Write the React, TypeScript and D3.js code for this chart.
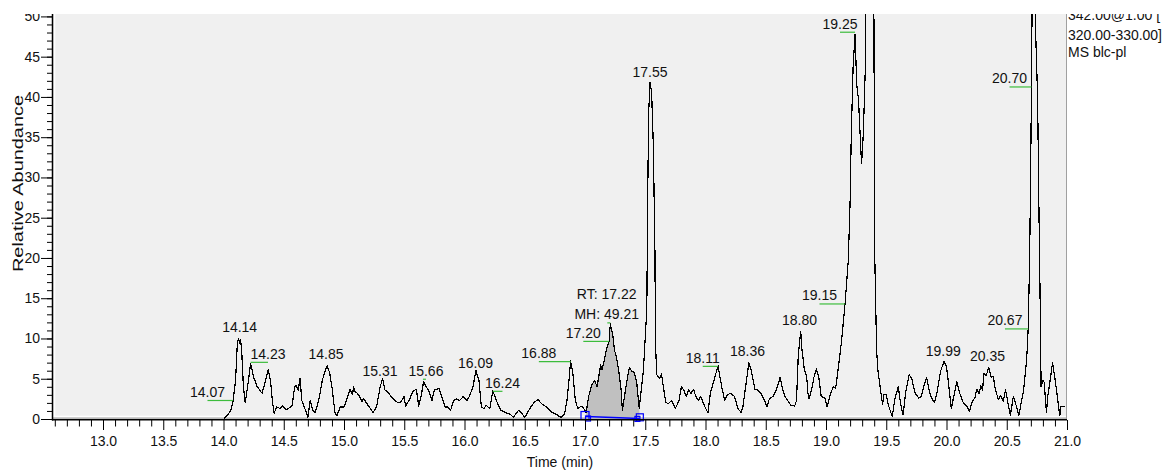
import React, { useEffect, useRef } from 'react'
import * as d3 from 'd3'

// chromatogram trace: [retention time (min), relative abundance (%)]
const trace: [number, number][] = [
  [14.005, 0.1], [14.04, 0.6], [14.06, 1.1], [14.08, 2.3], [14.1, 4.8], [14.115, 9.4], [14.125, 10.0], [14.135, 9.4],
  [14.14, 9.9], [14.15, 8.8], [14.165, 4.0], [14.18, 2.0], [14.2, 4.0], [14.225, 6.9], [14.25, 5.2], [14.28, 4.0],
  [14.32, 3.2], [14.35, 4.8], [14.37, 6.1], [14.39, 4.8], [14.405, 2.3], [14.42, 0.7], [14.44, 1.5], [14.47, 1.3],
  [14.49, 1.6], [14.52, 1.2], [14.54, 1.3], [14.57, 1.7], [14.59, 4.0], [14.6, 4.2], [14.62, 3.6], [14.635, 5.0],
  [14.65, 2.3], [14.68, 1.1], [14.7, 0.2], [14.72, 2.3], [14.74, 1.1], [14.76, 0.8], [14.79, 2.3], [14.82, 4.8],
  [14.84, 5.8], [14.86, 6.6], [14.88, 5.8], [14.9, 4.0], [14.925, 0.8], [14.94, 0.4], [14.97, 1.5], [15.0, 1.5],
  [15.02, 2.3], [15.05, 3.7], [15.07, 3.0], [15.08, 4.0], [15.09, 3.4], [15.11, 3.2], [15.13, 2.8], [15.15, 2.1],
  [15.16, 2.6], [15.19, 1.9], [15.21, 1.5], [15.24, 0.8], [15.27, 1.5], [15.3, 4.0], [15.32, 5.0], [15.34, 3.6],
  [15.36, 3.4], [15.39, 2.8], [15.42, 2.3], [15.45, 2.0], [15.47, 2.1], [15.5, 2.8], [15.51, 1.6], [15.54, 2.3],
  [15.57, 3.4], [15.6, 3.7], [15.62, 1.6], [15.64, 2.8], [15.66, 4.6], [15.69, 3.8], [15.7, 3.6], [15.73, 2.3],
  [15.75, 3.6], [15.79, 3.8], [15.81, 2.8], [15.84, 1.5], [15.86, 1.5], [15.885, 1.1], [15.91, 2.3], [15.93, 2.5],
  [15.96, 2.3], [15.99, 2.8], [16.02, 2.3], [16.04, 2.8], [16.07, 4.0], [16.095, 6.0], [16.12, 4.8], [16.14, 1.5],
  [16.16, 1.3], [16.18, 1.7], [16.21, 1.3], [16.235, 3.5], [16.27, 2.1], [16.3, 1.1], [16.34, 0.8], [16.38, 0.6],
  [16.405, 0.2], [16.45, 1.1], [16.48, 0.6], [16.5, 0.2], [16.55, 1.5], [16.58, 2.1], [16.61, 2.4], [16.64, 1.9],
  [16.68, 1.5], [16.72, 0.9], [16.76, 0.6], [16.8, 0.2], [16.83, 0.6], [16.85, 2.3], [16.87, 5.2], [16.88, 7.2],
  [16.9, 5.6], [16.92, 2.3], [16.94, 1.3], [16.97, 1.6], [16.99, 1.3], [17.01, 0.8], [17.03, 2.8], [17.055, 4.2],
  [17.08, 4.8], [17.1, 4.0], [17.11, 4.9], [17.13, 6.7], [17.14, 6.1], [17.16, 7.3], [17.18, 8.8], [17.2, 9.7],
  [17.21, 11.8], [17.23, 10.5], [17.245, 8.5], [17.26, 7.8], [17.28, 6.0], [17.3, 3.6], [17.31, 1.1], [17.34, 4.0],
  [17.36, 5.8], [17.37, 6.4], [17.39, 5.9], [17.41, 5.8], [17.43, 4.4], [17.45, 1.3], [17.485, 6.1], [17.513, 13.7],
  [17.52, 27], [17.528, 38], [17.54, 41.8], [17.553, 40.5], [17.567, 34], [17.58, 21.3], [17.585, 9.4], [17.595, 5.5],
  [17.62, 5.0], [17.635, 5.6], [17.65, 4.0], [17.67, 2.1], [17.69, 1.9], [17.72, 2.3], [17.75, 1.3], [17.78, 2.3],
  [17.8, 4.0], [17.82, 3.6], [17.84, 2.8], [17.86, 3.6], [17.88, 3.2], [17.9, 3.7], [17.92, 2.8], [17.94, 2.3],
  [17.96, 2.8], [17.995, 1.5], [18.02, 0.8], [18.04, 3.2], [18.07, 4.8], [18.104, 6.6], [18.12, 5.2], [18.14, 3.6],
  [18.16, 2.3], [18.18, 3.0], [18.21, 3.2], [18.24, 2.8], [18.27, 1.3], [18.295, 0.8], [18.31, 1.5], [18.34, 4.8],
  [18.36, 7.0], [18.38, 6.0], [18.41, 3.7], [18.43, 3.6], [18.46, 3.2], [18.49, 2.3], [18.51, 1.5], [18.53, 2.5],
  [18.56, 2.8], [18.59, 3.7], [18.62, 5.2], [18.64, 3.7], [18.66, 2.8], [18.69, 2.1], [18.71, 1.7], [18.74, 1.6],
  [18.755, 2.3], [18.77, 7.9], [18.79, 10.9], [18.8, 8.7], [18.82, 6.2], [18.84, 5.2], [18.85, 3.2], [18.86, 2.5],
  [18.88, 3.6], [18.9, 5.2], [18.92, 6.2], [18.94, 5.2], [18.96, 2.8], [18.99, 2.6], [19.01, 1.5], [19.03, 2.8],
  [19.06, 4.0], [19.08, 3.8], [19.1, 6.1], [19.13, 9.8], [19.158, 14.3], [19.185, 19.7], [19.2, 27], [19.21, 35.5],
  [19.225, 43.7], [19.241, 47.8], [19.255, 41.6], [19.27, 39.6], [19.28, 36.3], [19.295, 31.7], [19.31, 35.5], [19.325, 43],
  [19.345, 70], [19.37, 80], [19.395, 60], [19.405, 20], [19.42, 8.6], [19.43, 6.1], [19.46, 2.8], [19.47, 1.8],
  [19.48, 3.0], [19.5, 3.0], [19.52, 1.6], [19.55, 0.3], [19.57, 2.4], [19.6, 4.0], [19.62, 1.8], [19.64, 0.5],
  [19.66, 3.2], [19.69, 5.5], [19.71, 5.1], [19.74, 3.2], [19.77, 2.6], [19.79, 2.8], [19.81, 4.0], [19.835, 5.2],
  [19.85, 4.0], [19.87, 2.8], [19.9, 2.0], [19.92, 3.2], [19.95, 5.9], [19.98, 7.2], [20.0, 6.5], [20.02, 4.0],
  [20.04, 1.3], [20.06, 2.8], [20.085, 4.6], [20.11, 3.2], [20.14, 2.0], [20.17, 1.6], [20.19, 0.9], [20.21, 2.0],
  [20.24, 2.8], [20.25, 3.7], [20.27, 3.2], [20.285, 4.1], [20.3, 3.6], [20.31, 5.7], [20.33, 5.4], [20.35, 6.4],
  [20.37, 5.2], [20.39, 5.3], [20.4, 4.0], [20.43, 2.4], [20.45, 2.9], [20.47, 2.2], [20.49, 3.6], [20.51, 2.0],
  [20.53, 0.5], [20.555, 2.8], [20.58, 1.6], [20.6, 0.4], [20.62, 2.0], [20.64, 3.6], [20.665, 7.3], [20.678, 11.2],
  [20.69, 20], [20.698, 30], [20.705, 41.2], [20.72, 70], [20.735, 60], [20.742, 47], [20.756, 40], [20.768, 25],
  [20.776, 16], [20.785, 4.0], [20.8, 4.8], [20.81, 4.6], [20.83, 0.8], [20.84, 2.8], [20.86, 4.8], [20.88, 7.0],
  [20.9, 5.0], [20.92, 2.8], [20.94, 0.4], [20.95, 1.6], [20.98, 1.5]
]

// peak labels: text, where the label is centred, its anchor height, and the peak its leader points to
const peakLabels = ['14.07', '14.14', '14.23', '14.85', '15.31', '15.66', '16.09', '16.24', '16.88', '17.20', '17.55',
  '18.11', '18.36', '18.80', '19.15', '19.25', '19.99', '20.35', '20.67', '20.70']
const labelAt = [13.867, 14.134, 14.369, 14.851, 15.299, 15.68, 16.091, 16.315, 16.617, 16.986, 17.539,
  17.977, 18.349, 18.78, 18.946, 19.116, 19.973, 20.34, 20.485, 20.523]
const labelHeight = [2.36, 10.4, 7.1, 7.1, 5.0, 5.0, 6.0, 3.5, 7.2, 9.7, 42.1,
  6.6, 7.4, 11.3, 14.35, 48.1, 7.45, 6.8, 11.25, 41.3]
const leaderTo: (number | null)[] = [14.08, null, 14.225, null, null, 15.655, null, 16.235, 16.881, 17.2, null,
  18.104, null, null, 19.158, 19.241, null, null, 20.678, 20.705]

// integrated peak annotation
const rtLabel = ['RT: 17.22', 'MH: 49.21']
const rtAt = 17.18
const rtHeight = 12.0
const rtPeak = 17.21
const areaStart: [number, number] = [17.005, 0.31]
const areaEnd: [number, number] = [17.455, 0.06]

const xMajor = ['13.0', '13.5', '14.0', '14.5', '15.0', '15.5', '16.0', '16.5', '17.0', '17.5', '18.0', '18.5', '19.0',
  '19.5', '20.0', '20.5', '21.0']
const yMajor = ['0', '5', '10', '15', '20', '25', '30', '35', '40', '45', '50']
const scanInfo = ['342.00@1.00 [', '320.00-330.00]', 'MS blc-pl']

const W = 1165
const H = 470
const FONT = '"Liberation Sans", Arial, sans-serif'

function App() {
  const ref = useRef<SVGSVGElement>(null)

  useEffect(() => {
    document.body.style.margin = '0'
    const svg = d3.select(ref.current)
    svg.selectAll('*').remove()

    const left = 53
    const right = 1067
    const top = 14
    const bottom = 419

    const x = d3.scaleLinear().domain([12.585, 21.0]).range([left, right])
    const y = d3.scaleLinear().domain([0, 50.3]).range([bottom, top])

    svg.append('rect').attr('width', W).attr('height', H).attr('fill', '#fff')

    // plot panel with its bevel
    svg.append('rect')
      .attr('x', left).attr('y', top).attr('width', right - left).attr('height', bottom - top)
      .attr('fill', '#f0f0f0')
    svg.append('line').attr('x1', left + 1.5).attr('x2', left + 1.5).attr('y1', top).attr('y2', bottom - 2)
      .attr('stroke', '#fff').attr('stroke-width', 1.5)
    svg.append('line').attr('x1', left).attr('x2', right).attr('y1', bottom - 2.5).attr('y2', bottom - 2.5)
      .attr('stroke', '#fff').attr('stroke-width', 1.5)
    svg.append('line').attr('x1', left).attr('x2', right).attr('y1', bottom - 0.8).attr('y2', bottom - 0.8)
      .attr('stroke', '#a8a8a8').attr('stroke-width', 1.2)
    svg.append('line').attr('x1', right - 0.5).attr('x2', right - 0.5).attr('y1', top).attr('y2', bottom)
      .attr('stroke', '#a0a0a0').attr('stroke-width', 1)

    const clip = svg.append('clipPath').attr('id', 'plot-clip')
    clip.append('rect').attr('x', left).attr('y', top).attr('width', right - left).attr('height', bottom - top + 2)
    const plot = svg.append('g').attr('clip-path', 'url(#plot-clip)')

    // integrated area under the 17.22 peak
    const inArea = trace.filter(d => d[0] >= areaStart[0] && d[0] <= areaEnd[0])
    const poly = [areaStart, ...inArea, areaEnd]
    plot.append('path')
      .attr('d', d3.line<[number, number]>().x(d => x(d[0])).y(d => y(d[1]))(poly) + 'Z')
      .attr('fill', '#c0c0c0')

    // trace
    plot.append('path')
      .datum(trace)
      .attr('d', d3.line<[number, number]>().x(d => x(d[0])).y(d => y(d[1])))
      .attr('fill', 'none')
      .attr('stroke', '#000')
      .attr('stroke-width', 1.2)
      .attr('stroke-linejoin', 'round')
      .attr('shape-rendering', 'crispEdges')

    // integration baseline and its end markers
    svg.append('line')
      .attr('x1', x(areaStart[0])).attr('y1', y(areaStart[1]))
      .attr('x2', x(areaEnd[0])).attr('y2', y(areaEnd[1]))
      .attr('stroke', '#0000ff').attr('stroke-width', 1.3)
    const markers: [number, number, number][] = [
      [areaStart[0] - 0.005, areaStart[1] + 0.12, 8],
      [areaStart[0] + 0.02, areaStart[1] - 0.25, 5],
      [areaEnd[0], areaEnd[1] + 0.15, 7],
      [areaEnd[0] - 0.02, areaEnd[1] - 0.05, 5]
    ]
    svg.selectAll('rect.marker')
      .data(markers)
      .enter()
      .append('rect')
      .attr('class', 'marker')
      .attr('x', d => x(d[0]) - d[2] / 2)
      .attr('y', d => y(d[1]) - d[2] / 2)
      .attr('width', d => d[2])
      .attr('height', d => d[2])
      .attr('fill', 'none')
      .attr('stroke', '#0000ff')
      .attr('stroke-width', 1.2)

    // green leaders
    const green = '#3cbc3c'
    peakLabels.forEach((_, i) => {
      const to = leaderTo[i]
      if (to === null) return
      svg.append('line')
        .attr('x1', x(labelAt[i])).attr('x2', x(to))
        .attr('y1', y(labelHeight[i]) + 0.5).attr('y2', y(labelHeight[i]) + 0.5)
        .attr('stroke', green).attr('stroke-width', 1.2)
    })
    svg.append('line')
      .attr('x1', x(rtPeak) - 3).attr('x2', x(rtPeak))
      .attr('y1', y(rtHeight) + 0.5).attr('y2', y(rtHeight) + 0.5)
      .attr('stroke', green).attr('stroke-width', 1.2)

    // peak labels
    svg.selectAll('text.peak')
      .data(peakLabels)
      .enter()
      .append('text')
      .attr('class', 'peak')
      .attr('x', (_, i) => x(labelAt[i]))
      .attr('y', (_, i) => y(labelHeight[i]) - 3)
      .attr('text-anchor', 'middle')
      .attr('font-family', FONT)
      .attr('font-size', 14)
      .attr('fill', '#111')
      .text(d => d)
    rtLabel.forEach((t, i) => {
      svg.append('text')
        .attr('x', x(rtAt))
        .attr('y', y(rtHeight) - 3 - (rtLabel.length - 1 - i) * 20)
        .attr('text-anchor', 'middle')
        .attr('font-family', FONT)
        .attr('font-size', 14)
        .attr('fill', '#111')
        .text(t)
    })

    // x axis
    const majorVals = xMajor.map(Number)
    const minorVals = d3.range(126, 211).map(v => v / 10).filter(v => Math.abs(v * 2 - Math.round(v * 2)) > 1e-6)
    const xAxisG = svg.append('g').attr('transform', `translate(0,${bottom + 1})`)
    xAxisG.call(
      d3.axisBottom(x).tickValues(majorVals).tickSize(10).tickPadding(6.5)
        .tickFormat((_, i) => xMajor[i])
    )
    xAxisG.append('g').call(d3.axisBottom(x).tickValues(minorVals).tickSize(6.5).tickFormat(() => ''))
    xAxisG.selectAll('.domain').remove()
    xAxisG.selectAll('line').attr('stroke', '#000')
    xAxisG.selectAll('text').attr('font-family', FONT).attr('font-size', 14).attr('fill', '#111')

    // y axis
    const yAxisG = svg.append('g').attr('transform', `translate(${left},0)`)
    yAxisG.call(
      d3.axisLeft(y).tickValues(yMajor.map(Number)).tickSize(12).tickPadding(1)
        .tickFormat((_, i) => yMajor[i])
    )
    yAxisG.append('g').call(d3.axisLeft(y).tickValues(d3.range(0, 51)).tickSize(6).tickFormat(() => ''))
    yAxisG.selectAll('.domain').remove()
    yAxisG.selectAll('line').attr('stroke', '#000')
    yAxisG.selectAll('text').attr('font-family', FONT).attr('font-size', 14).attr('fill', '#111')

    // axis lines
    svg.append('line').attr('x1', left - 0.5).attr('x2', left - 0.5).attr('y1', top).attr('y2', bottom + 1.5)
      .attr('stroke', '#000').attr('stroke-width', 1.5)
    svg.append('line').attr('x1', left - 1).attr('x2', right).attr('y1', bottom + 0.8).attr('y2', bottom + 0.8)
      .attr('stroke', '#000').attr('stroke-width', 1.5)

    // axis titles
    svg.append('text')
      .attr('x', (left + right) / 2).attr('y', 467)
      .attr('text-anchor', 'middle')
      .attr('font-family', FONT).attr('font-size', 14).attr('fill', '#111')
      .text('Time (min)')
    svg.append('text')
      .attr('transform', 'translate(22.5,183.5) rotate(-90)')
      .attr('text-anchor', 'middle')
      .attr('font-family', FONT).attr('font-size', 14).attr('fill', '#111')
      .attr('textLength', 177).attr('lengthAdjust', 'spacingAndGlyphs')
      .text('Relative Abundance')

    // scan filter text
    const info = [20, 39.5, 56.5]
    scanInfo.forEach((t, i) => {
      const txt = svg.append('text')
        .attr('x', 1068).attr('y', info[i])
        .attr('font-family', FONT).attr('font-size', 14).attr('fill', '#111')
        .text(t)
      if (i === 1) txt.attr('textLength', 94).attr('lengthAdjust', 'spacingAndGlyphs')
    })

    // cropped top edge of the original figure
    svg.append('rect').attr('x', 0).attr('y', 0).attr('width', W).attr('height', top).attr('fill', '#fff')
  }, [])

  return <svg ref={ref} width={W} height={H} style={{ display: 'block' }} />
}

export default App
